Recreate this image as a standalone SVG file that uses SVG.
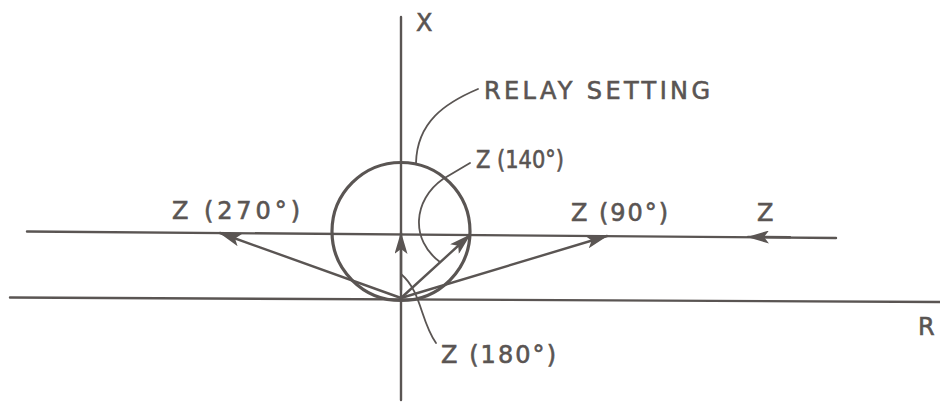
<svg xmlns="http://www.w3.org/2000/svg" width="940" height="402" viewBox="0 0 940 402">
<style>
.ln{stroke:#5a5553;stroke-width:2.4;fill:none;stroke-linecap:round}
.thin{stroke:#5a5553;stroke-width:1.8;fill:none;stroke-linecap:round}
.t{font-family:"DejaVu Sans","Liberation Sans",sans-serif;fill:#5a5553;stroke:#5a5553;stroke-width:0.6;font-size:24px}
</style>
<defs>
<marker id="ah" viewBox="0 0 22 13" refX="21" refY="6.5" markerWidth="22" markerHeight="13" markerUnits="userSpaceOnUse" orient="auto">
<path d="M0,0 L22,6.5 L0,13 L5,6.5 Z" fill="#5a5553"/>
</marker>
</defs>
<rect width="940" height="402" fill="#fff"/>
<g id="axes">
<line class="ln" x1="401" y1="17" x2="401" y2="400"/>
<line class="ln" x1="10" y1="297.5" x2="940" y2="302"/>
<line class="ln" x1="27" y1="231.5" x2="836" y2="238"/>
</g>
<g id="relay-circle">
<circle cx="401" cy="231.5" r="69" fill="none" stroke="#5a5553" stroke-width="3.2"/>
</g>
<g id="connectors">
<path class="ln" d="M401,298 L220,233" marker-end="url(#ah)"/>
<path class="ln" d="M401,298 L607,236" marker-end="url(#ah)"/>
<path class="ln" d="M401,298 L470,235" marker-end="url(#ah)"/>
<path class="ln" d="M401,290 L401,233" marker-end="url(#ah)"/>
<path class="ln" d="M790,237.2 L748,236.9" marker-end="url(#ah)"/>
<path class="thin" d="M478,89 C445,103 417,122 416,163"/>
<path class="thin" d="M470,163 L443,179 C413,200 410,240 440,262"/>
<path class="thin" d="M436,343 C420,320 422,292 401,274"/>
</g>
<g id="labels">
<text class="t" x="416" y="31">X</text>
<text class="t" x="484" y="99" textLength="226" lengthAdjust="spacing">RELAY SETTING</text>
<text class="t" x="476" y="168" textLength="88" lengthAdjust="spacingAndGlyphs">Z (140°)</text>
<text class="t" x="172" y="219" textLength="128" lengthAdjust="spacing">Z (270°)</text>
<text class="t" x="571" y="221" textLength="97" lengthAdjust="spacing">Z (90°)</text>
<text class="t" x="757" y="221">Z</text>
<text class="t" x="918" y="335">R</text>
<text class="t" x="441" y="363" textLength="115" lengthAdjust="spacing">Z (180°)</text>
</g>
</svg>
